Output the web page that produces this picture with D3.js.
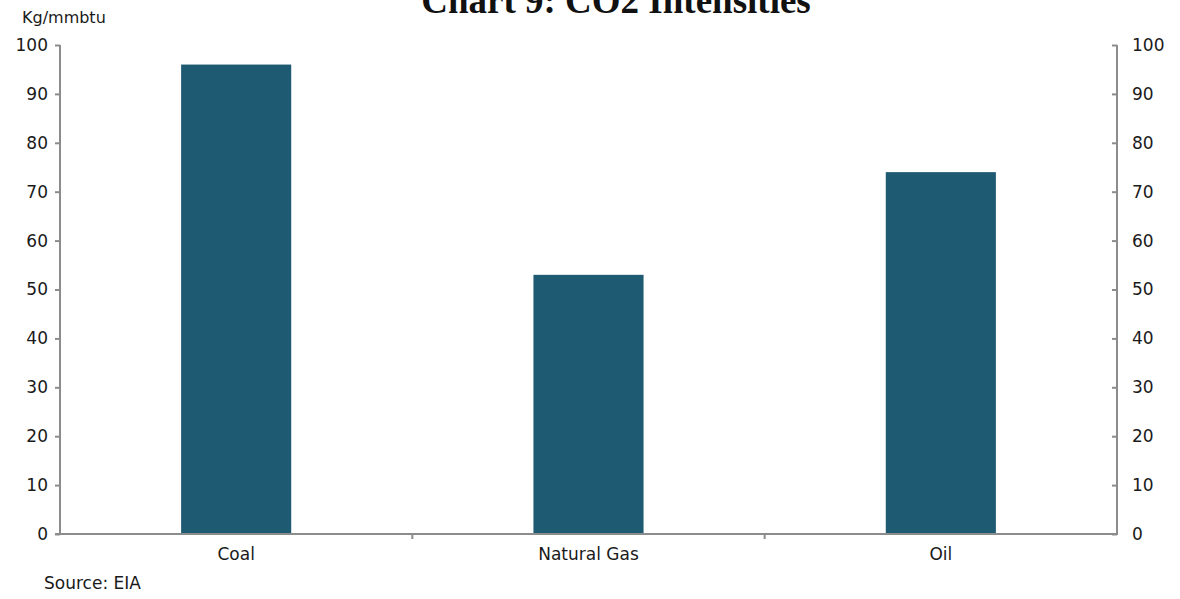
<!DOCTYPE html>
<html><head><meta charset="utf-8">
<script src="https://cdn.jsdelivr.net/npm/d3@7"></script>
<style>body{margin:0;background:#fff}svg{display:block}text{font-family:"DejaVu Sans",sans-serif}</style>
</head><body>
<svg id="c" width="1180" height="599"></svg>
<script>
const categories = ["Coal", "Natural Gas", "Oil"];
const values = [96, 53, 74];
const yTicks = [0, 10, 20, 30, 40, 50, 60, 70, 80, 90, 100];
const title = "Chart 9: CO2 Intensities";
const unitLabel = "Kg/mmbtu";
const source = "Source: EIA";

const svg = d3.select("#c");
const L = 60, R = 1117, T = 45, B = 534;
const x = d3.scaleBand().domain(categories).range([L, R]).paddingInner(0.6875).paddingOuter(0.34375);
const y = d3.scaleLinear().domain([0, 100]).range([B, T]);
const axisColor = "#8c8c8c";
const textColor = "#1a1a1a";
const fs = "17px";

svg.append("text").attr("x", 616).attr("y", 13).attr("text-anchor", "middle")
  .style("font-family", "'Liberation Serif', serif")
  .attr("font-weight", "bold").attr("font-size", 37).attr("fill", "#111").text(title);

svg.append("text").attr("x", 22).attr("y", 23).style("font-size", "16px").attr("fill", textColor).text(unitLabel);

svg.selectAll("rect.bar").data(values).join("rect").attr("class", "bar")
  .attr("x", (d, i) => x(categories[i])).attr("width", x.bandwidth())
  .attr("y", d => y(d)).attr("height", d => B - y(d)).attr("fill", "#1f5a73");

function styleAxis(g) {
  g.select(".domain").remove();
  g.selectAll(".tick line").attr("stroke", axisColor).attr("stroke-width", 2);
  g.selectAll(".tick text").attr("fill", textColor).style("font-size", fs).style("font-family", "'DejaVu Sans', sans-serif");
}
const left = svg.append("g").attr("transform", `translate(${L},0)`)
  .call(d3.axisLeft(y).tickValues(yTicks).tickSize(5).tickPadding(7));
styleAxis(left);
const right = svg.append("g").attr("transform", `translate(${R},0)`)
  .call(d3.axisRight(y).tickValues(yTicks).tickSize(-5).tickPadding(15));
styleAxis(right);

svg.append("line").attr("x1", L).attr("x2", L).attr("y1", T).attr("y2", B).attr("stroke", axisColor).attr("stroke-width", 2);
svg.append("line").attr("x1", R).attr("x2", R).attr("y1", T).attr("y2", B).attr("stroke", axisColor).attr("stroke-width", 2);
svg.append("line").attr("x1", L - 5).attr("x2", R + 1).attr("y1", B).attr("y2", B).attr("stroke", axisColor).attr("stroke-width", 2);

// category separator ticks
const step = x.step();
const seps = categories.slice(1).map(c => x(c) - x.paddingInner() * step / 2);
svg.selectAll("line.sep").data(seps).join("line").attr("class", "sep")
  .attr("x1", d => d).attr("x2", d => d).attr("y1", B).attr("y2", B + 5)
  .attr("stroke", axisColor).attr("stroke-width", 2);

const bottom = svg.append("g").attr("transform", `translate(0,${B})`)
  .call(d3.axisBottom(x).tickSize(0).tickPadding(14));
bottom.select(".domain").remove();
bottom.selectAll(".tick text").attr("fill", textColor).style("font-size", fs).style("font-family", "'DejaVu Sans', sans-serif");

svg.append("text").attr("x", 44).attr("y", 589).style("font-size", fs).attr("fill", textColor).text(source);
</script>
</body></html>
